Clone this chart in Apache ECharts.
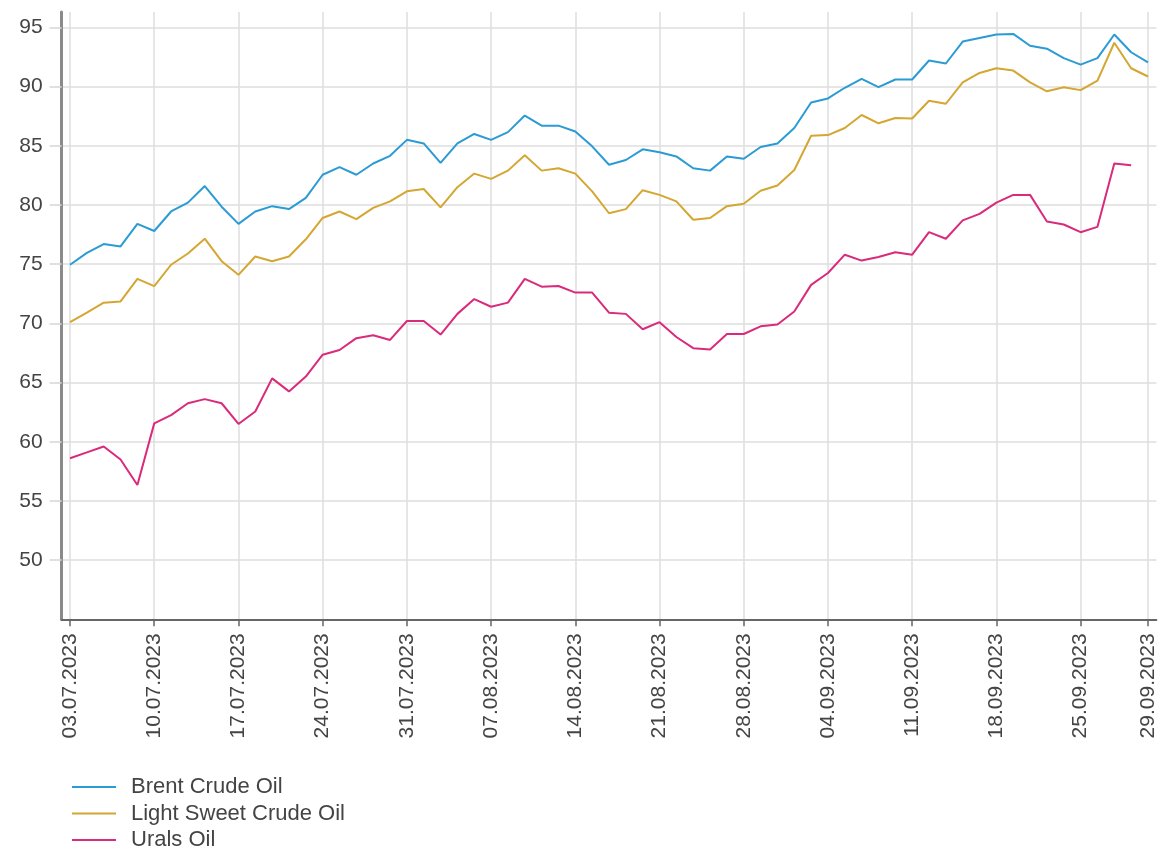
<!DOCTYPE html>
<html>
<head>
<meta charset="utf-8">
<title>Oil prices</title>
<script src="https://cdn.jsdelivr.net/npm/echarts@6/dist/echarts.min.js"></script>
<style>
html, body { margin: 0; padding: 0; background: #fff; }
#chart { width: 1170px; height: 851px; }
</style>
</head>
<body>
<div id="chart"></div>
<script>
// торговые дни
var dates = [
  '03.07.2023', '04.07.2023', '05.07.2023', '06.07.2023', '07.07.2023',
  '10.07.2023', '11.07.2023', '12.07.2023', '13.07.2023', '14.07.2023',
  '17.07.2023', '18.07.2023', '19.07.2023', '20.07.2023', '21.07.2023',
  '24.07.2023', '25.07.2023', '26.07.2023', '27.07.2023', '28.07.2023',
  '31.07.2023', '01.08.2023', '02.08.2023', '03.08.2023', '04.08.2023',
  '07.08.2023', '08.08.2023', '09.08.2023', '10.08.2023', '11.08.2023',
  '14.08.2023', '15.08.2023', '16.08.2023', '17.08.2023', '18.08.2023',
  '21.08.2023', '22.08.2023', '23.08.2023', '24.08.2023', '25.08.2023',
  '28.08.2023', '29.08.2023', '30.08.2023', '31.08.2023', '01.09.2023',
  '04.09.2023', '05.09.2023', '06.09.2023', '07.09.2023', '08.09.2023',
  '11.09.2023', '12.09.2023', '13.09.2023', '14.09.2023', '15.09.2023',
  '18.09.2023', '19.09.2023', '20.09.2023', '21.09.2023', '22.09.2023',
  '25.09.2023', '26.09.2023', '27.09.2023', '28.09.2023', '29.09.2023'
];

var brent = [
  74.95, 75.95, 76.7, 76.5, 78.4, 77.8, 79.45, 80.2, 81.6, 79.85,
  78.4, 79.45, 79.9, 79.65, 80.6, 82.55, 83.2, 82.55, 83.5, 84.15,
  85.5, 85.2, 83.55, 85.2, 86.0, 85.5, 86.15, 87.55, 86.7, 86.7,
  86.2, 84.95, 83.4, 83.8, 84.7, 84.45, 84.1, 83.1, 82.9, 84.1,
  83.9, 84.9, 85.2, 86.5, 88.65, 89.0, 89.9, 90.65, 89.95, 90.6,
  90.6, 92.2, 91.95, 93.8, 94.1, 94.4, 94.45, 93.45, 93.2, 92.4,
  91.85, 92.4, 94.4, 92.9, 92.05
];

var lightSweet = [
  70.1, 70.9, 71.75, 71.85, 73.75, 73.15, 74.95, 75.9, 77.15, 75.25,
  74.1, 75.65, 75.25, 75.65, 77.1, 78.9, 79.45, 78.8, 79.75, 80.3,
  81.15, 81.35, 79.8, 81.5, 82.65, 82.2, 82.9, 84.2, 82.9, 83.1,
  82.65, 81.15, 79.3, 79.65, 81.25, 80.85, 80.3, 78.75, 78.9, 79.9,
  80.1, 81.2, 81.65, 82.95, 85.85, 85.9, 86.5, 87.6, 86.9, 87.35,
  87.3, 88.8, 88.55, 90.35, 91.15, 91.55, 91.35, 90.35, 89.6, 89.95,
  89.7, 90.5, 93.7, 91.55, 90.85
];

var urals = [
  58.6, 59.1, 59.6, 58.5, 56.35, 61.55, 62.25, 63.25, 63.6, 63.25,
  61.5, 62.55, 65.35, 64.25, 65.5, 67.35, 67.75, 68.75, 69.0, 68.6,
  70.2, 70.2, 69.05, 70.8, 72.05, 71.4, 71.75, 73.75, 73.1, 73.15,
  72.6, 72.6, 70.9, 70.8, 69.5, 70.1, 68.85, 67.9, 67.8, 69.1,
  69.1, 69.75, 69.9, 71.0, 73.25, 74.25, 75.8, 75.3, 75.6, 76.0,
  75.8, 77.7, 77.15, 78.7, 79.25, 80.2, 80.85, 80.85, 78.6, 78.35,
  77.7, 78.15, 83.5, 83.35, null
];

var seriesNames = ['Brent Crude Oil', 'Light Sweet Crude Oil', 'Urals Oil'];
var seriesColors = ['#2b9bd3', '#d4a632', '#d92a7c'];

var fontFamily = '"Liberation Sans", Arial, sans-serif';

// подписи по понедельникам + последний день
var lastIdx = dates.length - 1;
var showLabel = function (index) {
  return index % 5 === 0 || index === lastIdx;
};

var chart = echarts.init(document.getElementById('chart'));

var option = {
  animation: false,
  backgroundColor: '#fff',
  grid: {
    left: 61.6,
    right: 13.6,
    top: 12,
    bottom: 231.7,
    containLabel: false,
  },
  legend: {
    orient: 'vertical',
    left: 72,
    top: 776,
    height: 120,
    padding: 0,
    icon: 'rect',
    itemWidth: 44,
    itemHeight: 2,
    itemGap: 4.5,
    data: seriesNames,
    textStyle: {
      color: '#444',
      fontSize: 22,
      lineHeight: 22,
      fontFamily: fontFamily,
      padding: [0, 0, 0, 10],
    },
  },
  xAxis: {
    type: 'category',
    data: dates,
    boundaryGap: true,
    axisLine: {
      show: true,
      lineStyle: { color: '#666', width: 2 },
    },
    axisTick: {
      show: true,
      alignWithLabel: true,
      interval: showLabel,
      length: 7,
      lineStyle: { color: '#666', width: 1.5 },
    },
    axisLabel: {
      interval: showLabel,
      rotate: 90,
      margin: 14,
      color: '#444',
      fontSize: 21,
      fontFamily: fontFamily,
    },
    splitLine: {
      show: true,
      alignWithLabel: true,
      interval: showLabel,
      lineStyle: { color: '#dedede', width: 1.5 },
    },
  },
  yAxis: {
    type: 'value',
    min: 45,
    max: 96.3,
    interval: 5,
    axisLine: {
      show: true,
      lineStyle: { color: '#8a8a8a', width: 3 },
    },
    axisTick: {
      show: true,
      length: 12,
      lineStyle: { color: '#d6d6d6', width: 1.5 },
    },
    axisLabel: {
      showMinLabel: false,
      showMaxLabel: false,
      margin: 19,
      color: '#444',
      fontSize: 21,
      fontFamily: fontFamily,
    },
    splitLine: {
      show: true,
      showMaxLine: false,
      lineStyle: { color: '#dedede', width: 1.5 },
    },
  },
  series: [
    {
      name: seriesNames[0],
      type: 'line',
      data: brent,
      symbol: 'none',
      color: seriesColors[0],
      lineStyle: { width: 2 },
    },
    {
      name: seriesNames[1],
      type: 'line',
      data: lightSweet,
      symbol: 'none',
      color: seriesColors[1],
      lineStyle: { width: 2 },
    },
    {
      name: seriesNames[2],
      type: 'line',
      data: urals,
      symbol: 'none',
      color: seriesColors[2],
      lineStyle: { width: 2 },
    },
  ],
};

chart.setOption(option);
</script>
</body>
</html>
